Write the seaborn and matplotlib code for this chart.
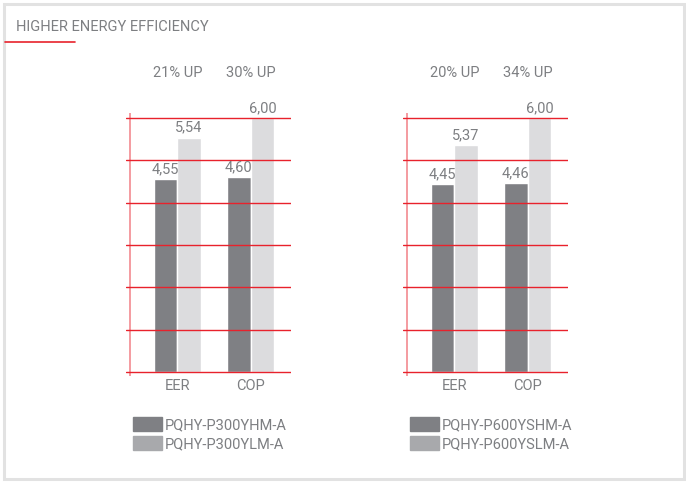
import matplotlib
matplotlib.use("Agg")
import matplotlib.pyplot as plt
from matplotlib.patches import Patch, Rectangle
from matplotlib.lines import Line2D
import pandas as pd
import seaborn as sns

# datos de las dos comparaciones
metrics = ["EER", "COP"]

models_left = ["PQHY-P300YHM-A", "PQHY-P300YLM-A"]
left_hm = [4.55, 4.60]
left_lm = [5.54, 6.00]
up_left = ["21% UP", "30% UP"]

models_right = ["PQHY-P600YSHM-A", "PQHY-P600YSLM-A"]
right_hm = [4.45, 4.46]
right_lm = [5.37, 6.00]
up_right = ["20% UP", "34% UP"]

# colores
dark = "#7f8084"
light = "#dcdcde"
legend_light = "#a8a9ac"
red = "#e8222c"
pink = "#f28a90"
grey_txt = "#7d7f82"

sns.set_style("white")
plt.rcParams["font.family"] = ["Roboto", "DejaVu Sans"]

fig = plt.figure(figsize=(6.86, 4.82), dpi=100)
W, H = 686, 482

# marco y titulo
fig.add_artist(Rectangle((4 / W, 1 - 479 / H), 680 / W, 475 / H, transform=fig.transFigure,
                         fill=False, edgecolor="#e2e2e2", linewidth=2.2))
fig.text(16 / W, 1 - 27 / H, "HIGHER ENERGY EFFICIENCY", color=grey_txt, fontsize=10.5,
         va="center", ha="left")
fig.add_artist(Line2D([5 / W, 75 / W], [1 - 42 / H, 1 - 42 / H], transform=fig.transFigure,
                      color=red, linewidth=1.2))


def draw_panel(left_px, models, hm, lm, ups):
    ax = fig.add_axes([left_px / W, 1 - 376 / H, 165 / W, 263 / H])
    df = pd.DataFrame({
        "metric": metrics * 2,
        "value": hm + lm,
        "model": [models[0]] * len(metrics) + [models[1]] * len(metrics),
    })
    sns.barplot(data=df, x="metric", y="value", hue="model", hue_order=models,
                palette=[dark, light], width=0.64, errorbar=None, legend=False,
                saturation=1, ax=ax)
    ax.set_xlim(-0.70, 1.55)
    ax.set_ylim(-0.094, 6.12)
    ax.set_xlabel("")
    ax.set_ylabel("")
    for s in ax.spines.values():
        s.set_visible(False)

    # rejilla roja por encima de las barras
    ax.set_yticks(range(7))
    ax.set_yticklabels([])
    ax.set_axisbelow(False)
    ax.grid(axis="y", color=red, linewidth=1.0)
    ax.grid(axis="x", visible=False)
    ax.axvline(-0.64, color=pink, linewidth=1.2)

    ax.set_xticks(range(len(metrics)))
    ax.set_xticklabels(metrics, color=grey_txt, fontsize=10.5)
    ax.set_xticks([0.45, 1.55], minor=True)
    ax.tick_params(axis="x", which="major", length=0, pad=2)
    ax.tick_params(axis="x", which="minor", length=4, color=red, direction="in", width=1)
    ax.tick_params(axis="y", length=0)

    for cont in ax.containers:
        ax.bar_label(cont, fmt=lambda v: f"{v:.2f}".replace(".", ","), padding=2,
                     color=grey_txt, fontsize=10.5)

    for i, t in enumerate(ups):
        ax.text(i, 7.06, t, ha="center", va="center", color=grey_txt, fontsize=10.5,
                clip_on=False)

    handles = [Patch(color=dark), Patch(color=legend_light)]
    fig.legend(handles, models, loc="upper left",
               bbox_to_anchor=((left_px + 7) / W, 1 - 417 / H), bbox_transform=fig.transFigure,
               frameon=False, fontsize=10.5, handlelength=2.0, handleheight=1.15,
               handletextpad=0.2, labelspacing=0.25, borderpad=0, borderaxespad=0,
               labelcolor=grey_txt)
    return ax


draw_panel(126, models_left, left_hm, left_lm, up_left)
draw_panel(403, models_right, right_hm, right_lm, up_right)

fig.savefig("out.png", dpi=100)
